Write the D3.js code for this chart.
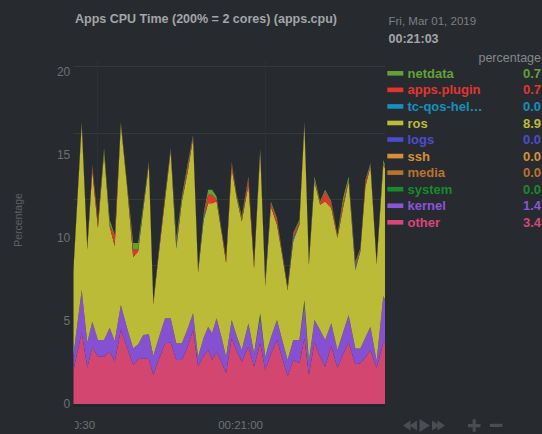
<!DOCTYPE html>
<html><head><meta charset="utf-8">
<script src="https://cdn.jsdelivr.net/npm/d3@7"></script>
<style>
html,body{margin:0;padding:0;background:#272b30;overflow:hidden;}
svg{display:block;font-family:"Liberation Sans",Arial,Helvetica,sans-serif;}
</style></head><body>
<svg id="chart" width="542" height="434"></svg>
<script>
// seconds after 00:20:00 on Fri, Mar 01, 2019
const seconds = [30.2,31.7,32.7,33.6,34.6,35.7,36.7,37.6,38.7,39.8,
  40.9,41.8,42.7,43.7,44.5,45.5,46.6,47.6,48.6,49.6,
  50.6,51.6,52.5,53.5,54.3,55.0,55.8,56.7,57.5,58.5,
  59.4,60.3,61.5,62.5,63.6,64.5,65.5,66.6,67.5,68.5,
  69.5,70.6,71.5,72.3,73.3,74.3,75.2,76.3,77.4,78.4,
  79.4,80.6,81.5,82.4,83.3,84.4,85.6,85.9];
const other = [2.0,4.3,2.2,3.4,2.85,2.85,3.15,2.55,4.46,3.4,
  2.35,2.7,2.75,2.7,1.75,2.7,3.66,3.7,2.65,2.65,
  3.4,4.46,2.25,2.9,3.25,2.65,3.15,2.5,1.85,3.96,
  3.2,2.55,3.45,2.25,3.66,2.05,3.0,3.86,2.8,1.65,
  2.65,2.45,3.96,1.75,3.7,2.85,2.25,3.5,2.15,3.0,
  3.7,2.4,2.45,2.8,3.25,2.15,3.7,3.7];
const kernel = [0.9,2.57,1.5,1.55,1.01,1.01,1.45,1.25,1.5,1.2,
  1.01,0.9,1.41,1.5,1.15,1.3,1.5,1.46,1.01,1.01,
  1.1,1.0,0.6,1.1,1.41,1.61,2.01,1.5,1.0,1.1,
  0.9,0.7,1.41,0.8,1.6,0.8,1.0,1.2,1.1,1.0,
  1.21,1.41,2.06,0.85,1.36,1.61,1.61,1.36,1.1,1.3,
  1.66,0.95,0.9,1.2,1.41,0.45,2.8,2.6];
const system = [0,0,0,0,0,0,0,0,0,0, 0,0,0,0,0,0,0,0,0,0,
  0,0,0,0,0,0,0,0,0,0, 0,0,0,0,0.2,0,0,0,0,0,
  0,0,0.25,0,0,0,0,0,0,0, 0,0,0,0,0,0,0,0];
const media = [0,0,0,0,0,0,0,0,0,0, 0,0,0,0,0,0,0,0,0,0,
  0,0,0,0,0,0,0,0,0,0, 0,0,0,0,0,0,0,0,0,0,
  0,0,0,0,0,0,0,0,0,0, 0,0,0,0,0,0,0,0];
const ssh = [0,0,0,0,0,0,0,0,0,0, 0,0,0,0,0,0,0,0,0,0,
  0,0,0,0,0,0,0,0,0,0, 0,0,0,0,0,0,0,0,0,0,
  0,0,0,0,0,0,0,0,0,0, 0,0,0,0,0,0,0,0];
const logs = [0,0,0,0,0,0,0,0,0,0, 0,0,0,0,0,0,0,0,0,0,
  0,0,0,0,0,0,0,0,0,0, 0,0,0,0,0,0,0,0,0,0,
  0,0,0,0,0,0,0,0,0,0, 0,0,0,0,0,0,0,0];
const ros = [5.0,9.93,5.6,9.05,6.74,11.24,6.1,5.7,10.84,8.5,
  5.49,5.6,7.54,10.2,3.1,5.1,7.14,10.04,5.69,8.54,
  9.4,10.54,5.05,7.1,7.44,7.84,7.04,6.3,5.65,9.14,
  8.3,7.75,8.34,5.12,9.74,4.25,7.9,5.74,5.1,4.22,
  5.94,6.94,10.53,5.77,8.34,7.54,8.34,6.94,6.75,7.5,
  8.04,4.72,5.85,9.1,9.64,5.8,7.9,7.9];
const tcqos = [0,0,0,0,0,0,0,0,0,0, 0,0,0.1,0,0,0,0,0,0.25,0,
  0,0,0,0.2,0,0,0,0,0,0, 0,0,0,0,0,0,0,0,0,0,
  0.2,0,0,0,0,0,0,0,0,0, 0,0.2,0,0,0,0,0,0];
const appsPlugin = [0.1,0.1,0.1,0.3,0.3,0.1,0.1,0.6,0.1,0.1,
  0.45,0.1,0.1,0.1,0.1,0.1,0.2,0.1,0.2,0.1,
  0.3,0.1,0.1,0.1,0.5,0.5,0.1,0.1,0.2,0.3,
  0.1,0.1,0.4,0.2,0.1,0.1,0.2,0.3,0.1,0.1,
  0.2,0.2,0.1,0.1,0.1,0.1,0.6,0.3,0.1,0.3,
  0.1,0.2,0.1,0.3,0.1,0.1,0.1,0.1];
const netdata = [0.1,0.1,0.1,0.1,0.1,0.2,0.3,0.1,0.1,0.1,
  0.4,0.4,0.1,0.1,0.1,0.1,0.1,0.1,0.2,0.2,
  0.2,0.1,0.1,0.1,0.3,0.3,0.2,0.1,0.1,0.1,
  0.1,0.2,0.1,0.1,0.1,0.2,0.1,0.1,0.1,0.1,
  0.1,0.1,0.1,0.1,0.2,0.1,0.1,0.1,0.1,0.3,
  0.2,0.1,0.1,0.1,0.1,0.1,0.2,0.1];

const legendNames = ["netdata","apps.plugin","tc-qos-hel\u2026","ros","logs","ssh","media","system","kernel","other"];
const legendValues = ["0.7","0.7","0.0","8.9","0.0","0.0","0.0","0.0","1.4","3.4"];
const legendColors = ["#62a234","#e3352d","#1690bd","#bcbc36","#4c4ccf","#d79037","#b8732d","#178a2c","#8a55d8","#d8467a"];
const yTicks = [0,5,10,15,20];
const gridValues = [4.35,8.35,12.35,16.35,20.35];
const gridSeconds = [34.5,64.5];
const xTickSeconds = [30,60];
const titleText = "Apps CPU Time (200% = 2 cores) (apps.cpu)";
const dateText = "Fri, Mar 01, 2019";
const timeText = "00:21:03";
const unitsText = "percentage";
const yAxisTitle = "Percentage";

const base = new Date(2019, 2, 1, 0, 20, 0);
const toDate = s => new Date(base.getTime() + s * 1000);
const times = seconds.map(toDate);

const seriesArrays = {
  other, kernel, system, media, ssh, logs, ros, tcqos, appsPlugin, netdata
};
const stackKeys = ["other","kernel","system","media","ssh","logs","ros","tcqos","appsPlugin","netdata"];
const keyColor = {
  netdata: legendColors[0], appsPlugin: legendColors[1], tcqos: legendColors[2], ros: "#bbbb37",
  logs: legendColors[4], ssh: legendColors[5], media: legendColors[6], system: legendColors[7],
  kernel: "#8650d2", other: "#d3466f"
};

const table = times.map((t, i) => {
  const row = { t };
  stackKeys.forEach(k => row[k] = seriesArrays[k][i]);
  return row;
});

const plot = { left: 73.3, right: 385, top: 72, bottom: 404 };
const svg = d3.select("#chart");

const x = d3.scaleTime().domain([times[0], times[times.length - 1]]).range([plot.left, plot.right]);
const y = d3.scaleLinear().domain([0, 20]).range([plot.bottom, plot.top]);

// grid
svg.append("g").selectAll("line").data(gridValues).join("line")
  .attr("x1", plot.left).attr("x2", plot.right)
  .attr("y1", d => Math.round(y(d)) + 0.5).attr("y2", d => Math.round(y(d)) + 0.5)
  .attr("stroke", "#323b3a").attr("stroke-width", 1);
svg.append("g").selectAll("line").data(gridSeconds.map(toDate)).join("line")
  .attr("x1", d => Math.round(x(d)) + 0.5).attr("x2", d => Math.round(x(d)) + 0.5)
  .attr("y1", 60).attr("y2", plot.bottom)
  .attr("stroke", "#2d3135").attr("stroke-width", 1);

// clips
const defs = svg.append("defs");
defs.append("clipPath").attr("id", "plotclip")
  .append("rect").attr("x", plot.left).attr("y", 0).attr("width", plot.right - plot.left).attr("height", plot.bottom);
defs.append("clipPath").attr("id", "xclip")
  .append("rect").attr("x", 75).attr("y", 405).attr("width", 467).attr("height", 29);

const stack = d3.stack().keys(stackKeys);
const layers = stack(table);
const area = d3.area()
  .x(d => x(d.data.t))
  .y0(d => y(d[0]))
  .y1(d => y(d[1]))
  .curve(d3.curveLinear);

svg.append("g").attr("clip-path", "url(#plotclip)")
  .selectAll("path").data(layers).join("path")
  .attr("d", area)
  .attr("fill", d => keyColor[d.key])
  .attr("stroke", "none");

// bottom dark axis line
svg.append("line").attr("x1", plot.left).attr("x2", plot.right)
  .attr("y1", plot.bottom + 1.5).attr("y2", plot.bottom + 1.5)
  .attr("stroke", "#1f2627").attr("stroke-width", 2);

// y axis
const yAxis = svg.append("g").attr("transform", `translate(${plot.left},0)`)
  .call(d3.axisLeft(y).tickValues(yTicks).tickSize(0).tickPadding(3));
yAxis.select(".domain").remove();
yAxis.selectAll("text").attr("fill", "#6d7073").style("font-size", "12px")
  .style("font-family", '"Liberation Sans",Arial,sans-serif');

// x axis (outer group clipped in page coordinates)
const xOuter = svg.append("g").attr("clip-path", "url(#xclip)");
const xAxis = xOuter.append("g").attr("transform", `translate(0,${plot.bottom})`)
  .call(d3.axisBottom(x).tickValues(xTickSeconds.map(toDate)).tickFormat(d3.timeFormat("%H:%M:%S")).tickSize(0).tickPadding(17));
xAxis.select(".domain").remove();
xAxis.selectAll("text").attr("fill", "#6f7275").style("font-size", "11.5px")
  .style("font-family", '"Liberation Sans",Arial,sans-serif');

// y axis title
svg.append("text").attr("transform", "translate(22,220) rotate(-90)")
  .attr("text-anchor", "middle").attr("fill", "#5e6165")
  .style("font-size", "10.5px").text(yAxisTitle);

// title
svg.append("text").attr("x", 75).attr("y", 22.5).attr("fill", "#a3a5a8")
  .style("font-size", "12.5px").style("font-weight", "bold").text(titleText);

// legend header
svg.append("text").attr("x", 388.5).attr("y", 25).attr("fill", "#7c7f82")
  .style("font-size", "11.5px").text(dateText);
svg.append("text").attr("x", 388.5).attr("y", 42.5).attr("fill", "#a3a5a8")
  .style("font-size", "12.5px").style("font-weight", "bold").text(timeText);
svg.append("text").attr("x", 541).attr("y", 61.5).attr("text-anchor", "end").attr("fill", "#85888b")
  .style("font-size", "12.5px").text(unitsText);

// legend rows
const rowY = d3.scalePoint().domain(legendNames).range([73.3, 222.3]);
const lg = svg.append("g").selectAll("g").data(legendNames).join("g")
  .attr("transform", d => `translate(0,${rowY(d)})`);
lg.append("rect").attr("x", 387.3).attr("y", -2.3).attr("width", 16).attr("height", 4.6)
  .attr("fill", (d, i) => legendColors[i]);
lg.append("text").attr("x", 407.5).attr("y", 4.6)
  .attr("fill", (d, i) => legendColors[i])
  .style("font-size", "13px").style("font-weight", "bold").text(d => d);
lg.append("text").attr("x", 541).attr("y", 4.6).attr("text-anchor", "end")
  .attr("fill", (d, i) => legendColors[i])
  .style("font-size", "13px").style("font-weight", "bold").text((d, i) => legendValues[i]);

// playback controls
const ctl = svg.append("g").attr("fill", "#4a4d52");
ctl.append("polygon").attr("points", "410.5,420.5 403,425.5 410.5,430.5");
ctl.append("polygon").attr("points", "417,420.5 409.5,425.5 417,430.5");
ctl.append("polygon").attr("points", "419.5,419 430,425.5 419.5,432");
ctl.append("polygon").attr("points", "432,420.5 439.5,425.5 432,430.5");
ctl.append("polygon").attr("points", "437.5,420.5 445,425.5 437.5,430.5");
ctl.append("rect").attr("x", 468).attr("y", 424).attr("width", 12.5).attr("height", 3.2);
ctl.append("rect").attr("x", 472.6).attr("y", 419.3).attr("width", 3.2).attr("height", 12.5);
ctl.append("rect").attr("x", 490).attr("y", 423.8).attr("width", 12.5).attr("height", 3.2);
</script>
</body></html>
